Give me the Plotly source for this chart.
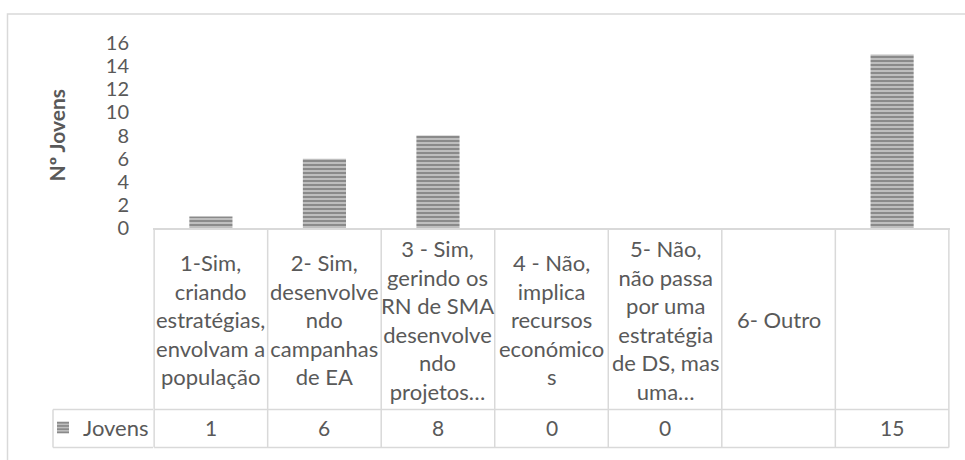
import plotly.graph_objects as go

# ---- data ----
categories = [
    "1-Sim,<br>criando<br>estratégias,<br>envolvam a<br>população",
    "2- Sim,<br>desenvolve<br>ndo<br>campanhas<br>de EA",
    "3 - Sim,<br>gerindo os<br>RN de SMA<br>desenvolve<br>ndo<br>projetos…",
    "4 - Não,<br>implica<br>recursos<br>económico<br>s",
    "5- Não,<br>não passa<br>por uma<br>estratégia<br>de DS, mas<br>uma…",
    "6- Outro",
    "",
]
values = [1, 6, 8, 0, 0, None, 15]
series_name = "Jovens"
y_title = "Nº Jovens"
y_ticks = [0, 2, 4, 6, 8, 10, 12, 14, 16]

# ---- layout geometry (pixels) ----
W, H = 965, 460
ML, MR, MT, MB = 153, 15, 43, 229
PW, PH = W - ML - MR, H - MT - MB

def fx(px):
    return (px - ML) / PW

def fy(py):
    return 1 - (py - MT) / PH

TXT = "#595959"
GRID = "#d9d9d9"
FONT = "Lato"

idx = list(range(len(categories)))

fig = go.Figure()
fig.add_trace(go.Bar(
    x=idx, y=values, name=series_name, width=0.38,
    marker=dict(
        color="#cfcfcf",
        line=dict(width=0),
        pattern=dict(shape="-", fgcolor="#505050", bgcolor="#c4c4c4",
                     size=4, solidity=0.55),
    ),
    showlegend=True,
))

shapes = []
n = len(categories)
# outer chart border
shapes.append(dict(type="rect", xref="paper", yref="paper",
                   x0=fx(7.5), x1=fx(975), y0=fy(470), y1=fy(13.5),
                   line=dict(color=GRID, width=1.5), fillcolor="rgba(0,0,0,0)"))
# table vertical lines
for i in range(n + 1):
    shapes.append(dict(type="line", xref="x", yref="paper",
                       x0=i - 0.5, x1=i - 0.5, y0=fy(232), y1=fy(454),
                       line=dict(color=GRID, width=1.5)))
# table horizontal lines
for py in (232, 415.5, 454):
    shapes.append(dict(type="line", xref="x", yref="paper",
                       x0=-0.5, x1=n - 0.5, y0=fy(py), y1=fy(py),
                       line=dict(color=GRID, width=1.5)))
# legend cell
for py in (415.5, 454):
    shapes.append(dict(type="line", xref="paper", yref="paper",
                       x0=fx(53), x1=fx(153), y0=fy(py), y1=fy(py),
                       line=dict(color=GRID, width=1.5)))
shapes.append(dict(type="line", xref="paper", yref="paper",
                   x0=fx(53), x1=fx(53), y0=fy(415.5), y1=fy(454),
                   line=dict(color=GRID, width=1.5)))

annotations = []
for i, (c, v) in enumerate(zip(categories, values)):
    annotations.append(dict(x=i, xref="x", y=fy(324), yref="paper",
                            text=c, showarrow=False, yanchor="middle",
                            font=dict(family=FONT, size=22, color=TXT)))
    annotations.append(dict(x=i, xref="x", y=fy(434), yref="paper",
                            text="" if v is None else str(v), showarrow=False,
                            yanchor="middle",
                            font=dict(family=FONT, size=21, color=TXT)))
annotations.append(dict(x=fx(56), xref="paper", y=fy(137), yref="paper",
                        text="<b>" + y_title + "</b>", textangle=-90,
                        showarrow=False, xanchor="center", yanchor="middle",
                        font=dict(family=FONT, size=21, color=TXT)))

fig.update_layout(
    width=W, height=H,
    margin=dict(l=ML, r=MR, t=MT, b=MB, pad=0),
    paper_bgcolor="white", plot_bgcolor="white",
    font=dict(family=FONT, size=20, color=TXT),
    xaxis=dict(range=[-0.51, n - 0.49], showticklabels=False, showgrid=False,
               zeroline=False, showline=True, linecolor=GRID, linewidth=2,
               ticks=""),
    yaxis=dict(range=[0, 16], tickvals=y_ticks, showgrid=False, zeroline=False,
               showline=False, ticks="", ticklabelstandoff=23,
               tickfont=dict(family=FONT, size=20, color=TXT)),
    showlegend=True,
    legend=dict(x=fx(43), y=fy(434), xanchor="left", yanchor="middle",
                bgcolor="rgba(0,0,0,0)", itemwidth=30,
                font=dict(family=FONT, size=22, color=TXT)),
    shapes=shapes, annotations=annotations,
)

fig.write_html("out.html",
               config={"displayModeBar": False},
               post_script="document.body.style.margin='0';"
                           "document.body.style.overflow='hidden';")
